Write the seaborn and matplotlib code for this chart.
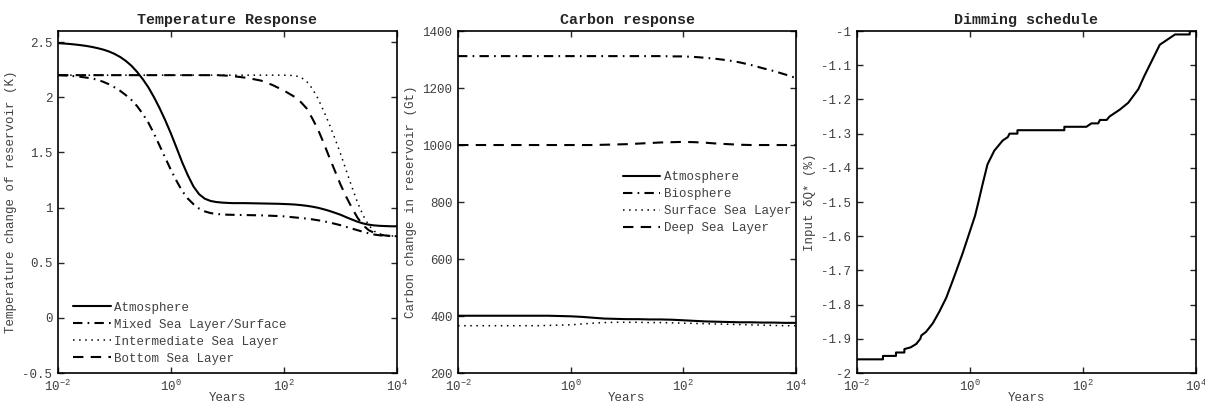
import matplotlib
matplotlib.use('Agg')
import matplotlib.pyplot as plt
import seaborn as sns
from matplotlib.ticker import NullLocator, FormatStrFormatter

# dados
# Temperatura (K) - grade de 0.1 década
temp_years = [0.01, 0.0126, 0.0158, 0.02, 0.0251, 0.0316, 0.0398, 0.0501, 0.0631, 0.0794,
              0.1, 0.126, 0.158, 0.2, 0.251, 0.316, 0.398, 0.501, 0.631, 0.794,
              1, 1.26, 1.58, 2, 2.51, 3.16, 3.98, 5.01, 6.31, 7.94,
              10, 12.6, 15.8, 20, 25.1, 31.6, 39.8, 50.1, 63.1, 79.4,
              100, 126, 158, 200, 251, 316, 398, 501, 631, 794,
              1000, 1259, 1585, 1995, 2512, 3162, 3981, 5012, 6310, 7943, 10000]
temp_atmosphere = [2.49, 2.487, 2.483, 2.478, 2.472, 2.465, 2.456, 2.445, 2.432, 2.415,
                   2.393, 2.365, 2.33, 2.285, 2.23, 2.165, 2.09, 2.0, 1.9, 1.79,
                   1.67, 1.54, 1.41, 1.29, 1.19, 1.12, 1.08, 1.06, 1.05, 1.045,
                   1.042, 1.04, 1.04, 1.04, 1.039, 1.038, 1.037, 1.036, 1.035, 1.034,
                   1.032, 1.03, 1.027, 1.022, 1.016, 1.008, 0.998, 0.985, 0.97, 0.953,
                   0.935, 0.913, 0.892, 0.872, 0.856, 0.845, 0.838, 0.834, 0.832, 0.83, 0.83]
temp_mixed = [2.2, 2.198, 2.195, 2.19, 2.185, 2.178, 2.17, 2.158, 2.14, 2.118,
              2.09, 2.058, 2.02, 1.975, 1.92, 1.85, 1.77, 1.67, 1.56, 1.45,
              1.34, 1.24, 1.15, 1.08, 1.03, 0.99, 0.965, 0.95, 0.942, 0.938,
              0.935, 0.934, 0.933, 0.932, 0.931, 0.93, 0.929, 0.927, 0.925, 0.923,
              0.92, 0.915, 0.91, 0.905, 0.9, 0.893, 0.885, 0.876, 0.865, 0.853,
              0.84, 0.825, 0.81, 0.795, 0.78, 0.766, 0.755, 0.748, 0.744, 0.741, 0.74]
inter_years = [0.01, 1, 10, 100, 126, 158, 200, 251, 316, 398, 501, 631, 794,
               1000, 1259, 1585, 1995, 2512, 3162, 3981, 5012, 6310, 7943, 10000]
temp_intermediate = [2.2, 2.2, 2.2, 2.2, 2.198, 2.195, 2.18, 2.145, 2.08, 1.99, 1.88, 1.76, 1.63,
                     1.49, 1.34, 1.19, 1.05, 0.93, 0.84, 0.785, 0.76, 0.748, 0.743, 0.74]
bottom_years = [0.01, 1, 6.31, 7.94, 10, 12.6, 15.8, 20, 25.1, 31.6, 39.8, 50.1, 63.1, 79.4,
                100, 126, 158, 200, 251, 316, 398, 501, 631, 794,
                1000, 1259, 1585, 1995, 2512, 3162, 3981, 5012, 6310, 7943, 10000]
temp_bottom = [2.2, 2.2, 2.2, 2.198, 2.195, 2.19, 2.185, 2.178, 2.17, 2.16, 2.15, 2.13, 2.11, 2.085,
               2.06, 2.03, 2.0, 1.955, 1.9, 1.81, 1.71, 1.59, 1.46, 1.335,
               1.21, 1.1, 1.0, 0.91, 0.84, 0.795, 0.77, 0.755, 0.746, 0.742, 0.74]

# Carbono (Gt) - grade de 0.2 década
carb_years = [0.01, 0.0158, 0.0251, 0.0398, 0.0631, 0.1, 0.158, 0.251, 0.398, 0.631,
              1, 1.58, 2.51, 3.98, 6.31, 10, 15.8, 25.1, 39.8, 63.1,
              100, 158, 251, 398, 631, 1000, 1585, 2512, 3981, 6310, 10000]
carb_atmosphere = [401, 401, 401, 401, 401, 401, 401, 401, 401, 400,
                   399, 397, 394, 391, 390, 389, 389, 388, 388, 387,
                   385, 383, 381, 380, 379, 378, 378, 377, 377, 376, 376]
carb_biosphere = [1312, 1312, 1312, 1312, 1312, 1312, 1312, 1312, 1312, 1312,
                  1312, 1312, 1312, 1312, 1312, 1312, 1312, 1312, 1312, 1311,
                  1311, 1309, 1306, 1302, 1297, 1290, 1281, 1270, 1260, 1248, 1235]
carb_surface = [366, 366, 366, 366, 366, 366, 366, 366, 367, 368,
                369, 372, 375, 377, 378, 378, 378, 377, 377, 376,
                375, 374, 373, 372, 371, 370, 369, 368, 367, 366, 366]
carb_deep = [1000, 1000, 1000, 1000, 1000, 1000, 1000, 1000, 1000, 1000,
             1000, 1000, 1000, 1001, 1002, 1003, 1005, 1007, 1009, 1010,
             1011, 1010, 1008, 1005, 1003, 1001, 1000, 1000, 1000, 1000, 1000]

# Dimming (%)
dim_years = [0.01, 0.0288, 0.0288, 0.049, 0.049, 0.069, 0.069, 0.089, 0.112, 0.132,
             0.138, 0.166, 0.219, 0.288, 0.380, 0.457, 0.562, 0.741, 0.977, 1.23,
             1.41, 1.66, 2.04, 2.69, 3.80, 4.68, 5.01, 6.92, 6.92, 46.8,
             46.8, 115, 141, 186, 200, 263, 295, 363, 447, 631,
             955, 1230, 1738, 1995, 2291, 2818, 3467, 4266, 7762, 7762, 10000]
dim_values = [-1.96, -1.96, -1.95, -1.95, -1.94, -1.94, -1.93, -1.925, -1.915, -1.90,
              -1.89, -1.88, -1.855, -1.82, -1.78, -1.745, -1.705, -1.65, -1.59, -1.54,
              -1.50, -1.45, -1.39, -1.35, -1.32, -1.31, -1.30, -1.30, -1.29, -1.29,
              -1.28, -1.28, -1.27, -1.27, -1.26, -1.26, -1.25, -1.24, -1.23, -1.21,
              -1.17, -1.13, -1.08, -1.06, -1.04, -1.03, -1.02, -1.01, -1.01, -1.0, -1.0]

sns.set_style('ticks')
plt.rcParams['font.family'] = ['Liberation Mono', 'DejaVu Sans']
plt.rcParams['mathtext.fontset'] = 'custom'
plt.rcParams['mathtext.rm'] = 'Liberation Mono'
plt.rcParams['mathtext.it'] = 'Liberation Mono'
plt.rcParams['axes.unicode_minus'] = False

cinza = '#404040'
solida = '-'
traco_ponto = (0, (4.5, 2.5, 0.8, 2.5))
pontilhada = (0, (1, 3))
tracejada = (0, (5, 3.5))

fig = plt.figure(figsize=(12.05, 4.03), dpi=100)
ax1 = fig.add_axes([0.0481, 0.0744, 0.2813, 0.8486])
ax2 = fig.add_axes([0.3801, 0.0744, 0.2805, 0.8486])
ax3 = fig.add_axes([0.7112, 0.0744, 0.2813, 0.8486])

# FIGURA 1: temperatura
sns.lineplot(x=temp_years, y=temp_atmosphere, ax=ax1, color='k', lw=1.5, linestyle=solida, label='Atmosphere')
sns.lineplot(x=temp_years, y=temp_mixed, ax=ax1, color='k', lw=1.5, linestyle=traco_ponto, label='Mixed Sea Layer/Surface')
sns.lineplot(x=inter_years, y=temp_intermediate, ax=ax1, color='k', lw=1.1, linestyle=pontilhada, label='Intermediate Sea Layer')
sns.lineplot(x=bottom_years, y=temp_bottom, ax=ax1, color='k', lw=1.5, linestyle=tracejada, label='Bottom Sea Layer')
ax1.set_ylim(-0.5, 2.6)
ax1.set_yticks([-0.5, 0, 0.5, 1, 1.5, 2, 2.5])
ax1.yaxis.set_major_formatter(FormatStrFormatter('%g'))
ax1.set_title('Temperature Response', fontsize=10.8, fontweight='bold', pad=5)
ax1.set_ylabel('Temperature change of reservoir (K)', color=cinza, fontsize=9)
ax1.legend(loc='lower left', bbox_to_anchor=(0.03, 0.01), frameon=False, fontsize=9,
           handlelength=3, handletextpad=0.3, labelspacing=0.4, borderaxespad=0,
           labelcolor=cinza)

# FIGURA 2: carbono
sns.lineplot(x=carb_years, y=carb_atmosphere, ax=ax2, color='k', lw=1.5, linestyle=solida, label='Atmosphere')
sns.lineplot(x=carb_years, y=carb_biosphere, ax=ax2, color='k', lw=1.5, linestyle=traco_ponto, label='Biosphere')
sns.lineplot(x=carb_years, y=carb_surface, ax=ax2, color='k', lw=1.1, linestyle=pontilhada, label='Surface Sea Layer')
sns.lineplot(x=carb_years, y=carb_deep, ax=ax2, color='k', lw=1.5, linestyle=tracejada, label='Deep Sea Layer')
ax2.set_ylim(200, 1400)
ax2.set_yticks([200, 400, 600, 800, 1000, 1200, 1400])
ax2.set_title('Carbon response', fontsize=10.8, fontweight='bold', pad=5)
ax2.set_ylabel('Carbon change in reservoir (Gt)', color=cinza, fontsize=9)
ax2.legend(loc='upper left', bbox_to_anchor=(0.473, 0.605), frameon=False, fontsize=9,
           handlelength=3, handletextpad=0.3, labelspacing=0.4, borderaxespad=0,
           labelcolor=cinza)

# FIGURA 3: dimming
sns.lineplot(x=dim_years, y=dim_values, ax=ax3, color='k', lw=1.5, sort=False, estimator=None)
ax3.set_ylim(-2, -1)
ax3.set_yticks([-2, -1.9, -1.8, -1.7, -1.6, -1.5, -1.4, -1.3, -1.2, -1.1, -1])
ax3.yaxis.set_major_formatter(FormatStrFormatter('%g'))
ax3.set_title('Dimming schedule', fontsize=10.8, fontweight='bold', pad=5)
ax3.set_ylabel('Input δQ* (%)', color=cinza, fontsize=9)

for ax in [ax1, ax2, ax3]:
    ax.set_xscale('log')
    ax.set_xlim(1e-2, 1e4)
    ax.set_xticks([1e-2, 1e0, 1e2, 1e4])
    ax.xaxis.set_minor_locator(NullLocator())
    ax.set_xlabel('Years', color=cinza, fontsize=9, labelpad=-1.5)
    ax.tick_params(direction='in', top=True, right=True, length=4, width=1,
                   labelsize=9, labelcolor=cinza, pad=4)
    for s in ax.spines.values():
        s.set_linewidth(1.2)
        s.set_color('k')

plt.savefig('out.png', dpi=100)
